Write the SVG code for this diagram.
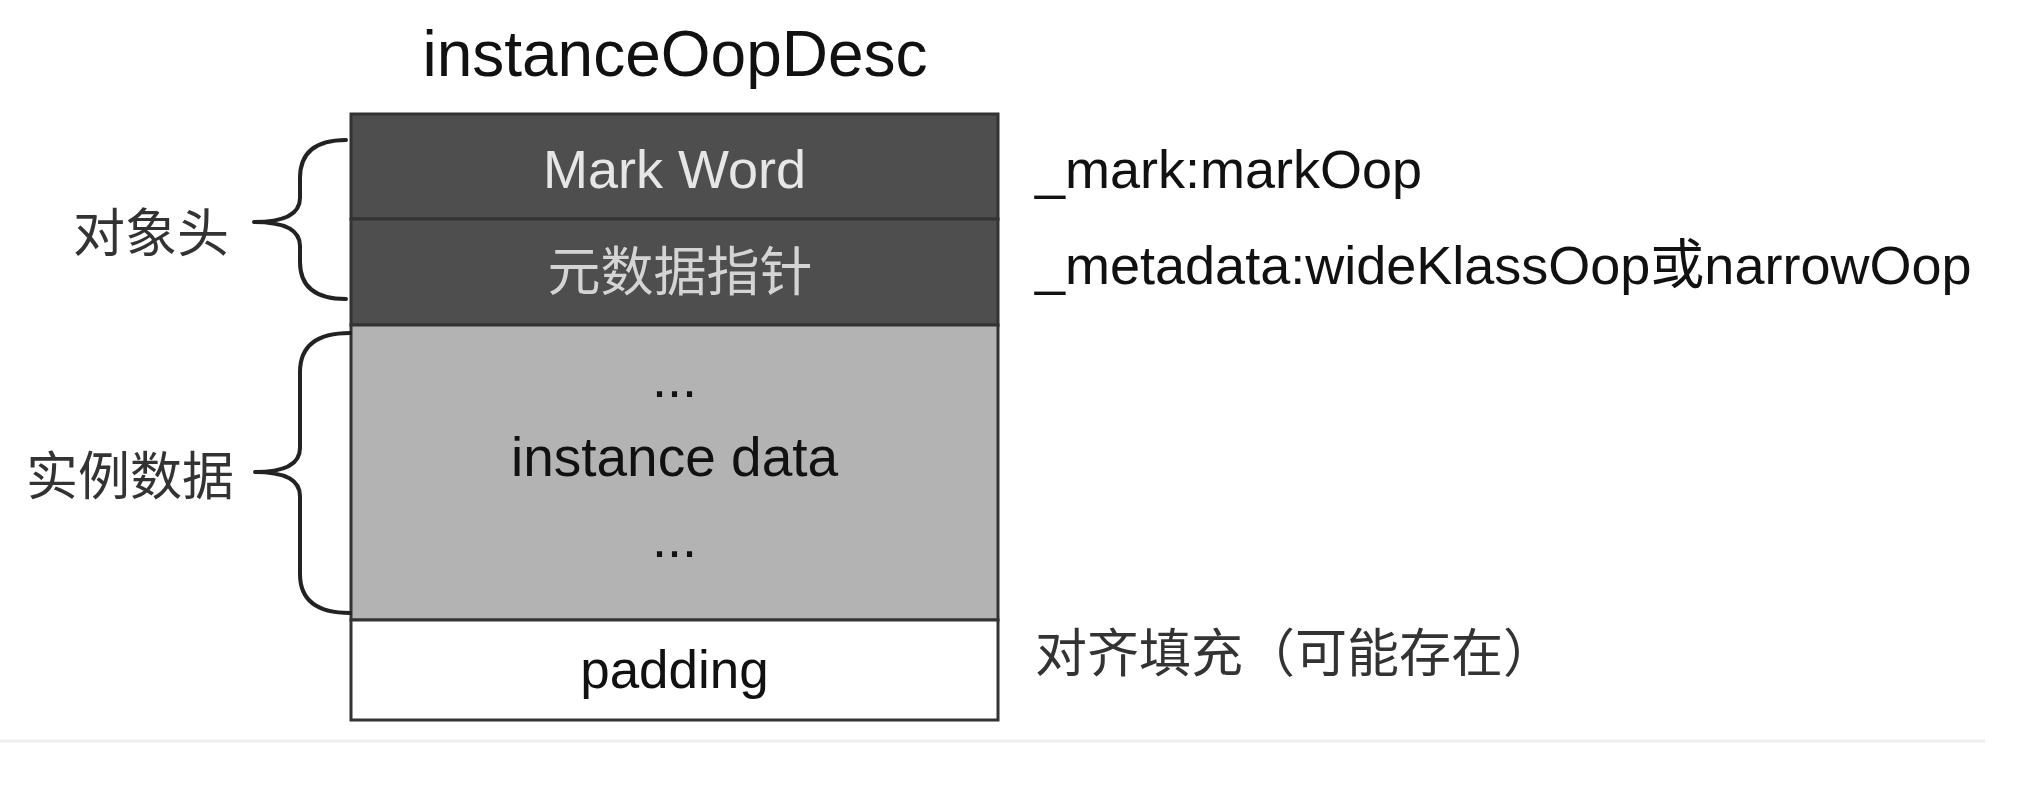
<svg xmlns="http://www.w3.org/2000/svg" width="2024" height="794" viewBox="0 0 2024 794">
<style>
text{font-family:"Liberation Sans","Noto Sans CJK SC",sans-serif;}
.cjk{font-family:"Noto Sans CJK SC","Liberation Sans",sans-serif;}
.row{stroke:#333;stroke-width:3;}
.brace{fill:none;stroke:#222;stroke-width:4;stroke-linecap:round;stroke-linejoin:round;}
.lbl{font-size:52px;fill:#333;}
.side{font-size:54px;fill:#111;}
</style>
<rect width="2024" height="794" fill="#fff"/>
<line x1="0" y1="741" x2="1985" y2="741" stroke="#eeeeee" stroke-width="3"/>
<g id="title"><text x="675" y="76" text-anchor="middle" font-size="64" fill="#111">instanceOopDesc</text></g>
<g id="mark-word">
<rect class="row" x="351" y="114" width="647" height="105" fill="#4e4e4e"/>
<text x="674.5" y="188" text-anchor="middle" font-size="54" fill="#e6e6e6">Mark Word</text>
</g>
<g id="metadata">
<rect class="row" x="351" y="219" width="647" height="106" fill="#4e4e4e"/>
<text class="cjk" x="680" y="291" text-anchor="middle" font-size="53" fill="#d4d4d4">元数据指针</text>
</g>
<g id="instance-data">
<rect class="row" x="351" y="325" width="647" height="295" fill="#b3b3b3"/>
<text x="674.5" y="397" text-anchor="middle" font-size="54" fill="#111">...</text>
<text x="674.5" y="476" text-anchor="middle" font-size="55" fill="#111">instance data</text>
<text x="674.5" y="557" text-anchor="middle" font-size="54" fill="#111">...</text>
</g>
<g id="padding">
<rect class="row" x="351" y="620" width="647" height="100" fill="#ffffff"/>
<text x="674.5" y="688" text-anchor="middle" font-size="53" fill="#111">padding</text>
</g>
<g id="connectors">
<path class="brace" d="M346 140 Q300 140 300 178 L300 198 Q300 222 254 222 Q300 222 300 246 L300 262 Q300 299 346 299"/>
<path class="brace" d="M350 333 Q300 333 300 372 L300 448 Q300 472 255 472 Q300 472 300 496 L300 574 Q300 613 350 613"/>
</g>
<g id="label-header"><text class="cjk lbl" x="73" y="252" font-size="54">对象头</text></g>
<g id="label-instance"><text class="cjk lbl" x="26" y="495">实例数据</text></g>
<g id="label-mark"><text class="side" x="1035" y="188">_mark:markOop</text></g>
<g id="label-metadata"><text class="side" x="1035" y="284">_metadata:wideKlassOop或narrowOop</text></g>
<g id="label-padding"><text class="cjk lbl" x="1035" y="672">对齐填充（可能存在）</text></g>
</svg>
